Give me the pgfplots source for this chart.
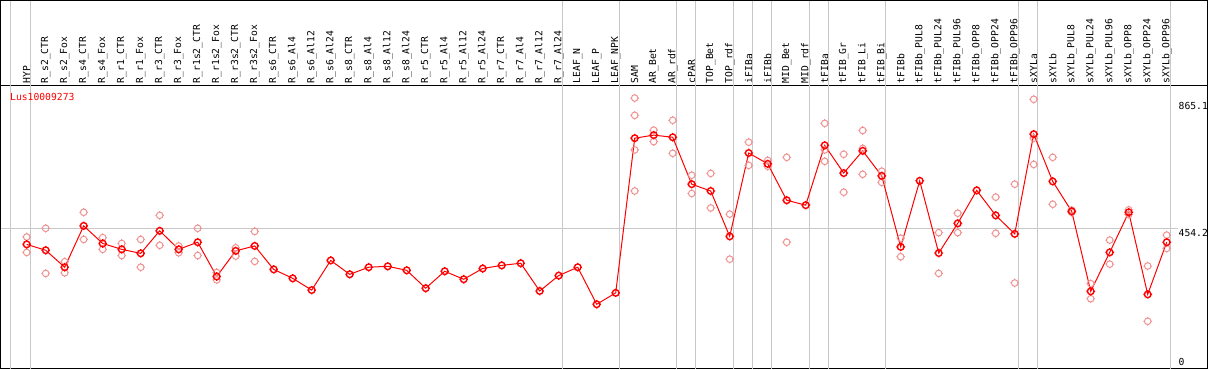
\documentclass[border=0pt]{standalone}
\usepackage{fontspec}
\setmainfont{DejaVu Sans Mono}
\usepackage{pgfplots}
\pgfplotsset{compat=1.18}
\definecolor{sepgray}{RGB}{200,200,200}
\definecolor{palered}{RGB}{240,145,145}
\definecolor{mainred}{RGB}{255,0,0}
\newcommand{\lf}{\fontsize{9.7bp}{11bp}\selectfont}
\pgfdeclareplotmark{nc}{%
  \pgfpathcircle{\pgfpointorigin}{\pgfplotmarksize}%
  \pgfpathmoveto{\pgfpoint{\pgfplotmarksize}{0pt}}\pgfpathlineto{\pgfpoint{1.3\pgfplotmarksize}{0pt}}%
  \pgfpathmoveto{\pgfpoint{-\pgfplotmarksize}{0pt}}\pgfpathlineto{\pgfpoint{-1.3\pgfplotmarksize}{0pt}}%
  \pgfpathmoveto{\pgfpoint{0pt}{\pgfplotmarksize}}\pgfpathlineto{\pgfpoint{0pt}{1.3\pgfplotmarksize}}%
  \pgfpathmoveto{\pgfpoint{0pt}{-\pgfplotmarksize}}\pgfpathlineto{\pgfpoint{0pt}{-1.3\pgfplotmarksize}}%
  \pgfusepathqstroke}
\begin{document}
\begin{tikzpicture}
\begin{axis}[
  scale only axis, width=1206.5bp, height=283bp,
  xmin=-1.3526, xmax=62.147, ymin=-1.6, ymax=915.1,
  clip=false,
  axis line style={line width=1bp, black},
  major tick length=0pt,
  /pgf/number format/assume math mode=true,
  xtick={0,...,60},
  xticklabels={HYP,R\_s2\_CTR,R\_s2\_Fox,R\_s4\_CTR,R\_s4\_Fox,R\_r1\_CTR,R\_r1\_Fox,R\_r3\_CTR,R\_r3\_Fox,R\_r1s2\_CTR,R\_r1s2\_Fox,R\_r3s2\_CTR,R\_r3s2\_Fox,R\_s6\_CTR,R\_s6\_Al4,R\_s6\_Al12,R\_s6\_Al24,R\_s8\_CTR,R\_s8\_Al4,R\_s8\_Al12,R\_s8\_Al24,R\_r5\_CTR,R\_r5\_Al4,R\_r5\_Al12,R\_r5\_Al24,R\_r7\_CTR,R\_r7\_Al4,R\_r7\_Al12,R\_r7\_Al24,LEAF\_N,LEAF\_P,LEAF\_NPK,SAM,AR\_Bet,AR\_rdf,cPAR,TOP\_Bet,TOP\_rdf,iFIBa,iFIBb,MID\_Bet,MID\_rdf,tFIBa,tFIB\_Gr,tFIB\_Li,tFIB\_Bi,tFIBb,tFIBb\_PUL8,tFIBb\_PUL24,tFIBb\_PUL96,tFIBb\_OPP8,tFIBb\_OPP24,tFIBb\_OPP96,sXYLa,sXYLb,sXYLb\_PUL8,sXYLb\_PUL24,sXYLb\_PUL96,sXYLb\_OPP8,sXYLb\_OPP24,sXYLb\_OPP96},
  xticklabel pos=upper,
  xticklabel style={rotate=90, anchor=west, font=\lf, inner sep=2.5bp},
  ytick={454.2,865.1}, yticklabels={454.2,865.1},
  yticklabel pos=right,
  yticklabel style={anchor=west, xshift=-32bp, yshift=-4.5bp, font=\lf, inner sep=3bp},
  extra y ticks={0}, extra y tick labels={0},
  extra y tick style={yticklabel style={yshift=11bp}},
]
\coordinate (LL) at (rel axis cs:0,0);
\coordinate (UR) at (rel axis cs:1,1);
% separators
\pgfplotsinvokeforeach{-0.84,0.21,28.21,31.19,34.21,35.21,37.21,38.21,39.21,41.21,42.21,45.21,52.21,53.21,60.21}{
  \draw[sepgray, line width=1bp] (axis cs:#1,-1.6) -- ([yshift=85.5bp]axis cs:#1,915.1);
}
\draw[sepgray, line width=1bp] (axis cs:-1.3526,454.2) -- (axis cs:60.6,454.2);
% header frame
\draw[black, line width=1bp] (rel axis cs:0,1) -- ([yshift=85.5bp]rel axis cs:0,1) -- ([yshift=85.5bp]rel axis cs:1,1) -- (rel axis cs:1,1);
\node[anchor=west, inner sep=0pt, text=mainred, font=\lf] at ([shift={(9bp,-11bp)}]rel axis cs:0,1) {Lus10009273};
% replicates
\addplot[only marks, mark=nc, mark size=3.3bp, palered, line width=1bp] table {
x y
0 426
0 376
1 454
1 308
2 346
2 310
3 506
3 418
4 424
4 386
5 405
5 366
6 418
6 328
7 496
7 399
8 397
8 375
9 454
9 366
10 311
10 287
11 391
11 364
12 444
12 347
32 876
32 820
32 708
32 575
33 772
33 735
34 804
34 697
35 626
35 567
36 632
36 520
37 500
37 354
38 733
38 658
39 674
39 655
40 684
40 409
42 794
42 708
42 671
43 694
43 571
44 771
44 713
44 629
45 639
45 603
46 422
46 362
48 440
48 308
49 503
49 440
51 555
51 438
52 597
52 277
53 872
53 746
53 661
54 684
54 532
55 513
55 506
56 275
56 226
57 416
57 338
58 514
58 499
59 332
59 153
60 432
60 389
};
% means
\addplot[mainred, line width=1bp, mark=nc, mark size=3.3bp, mark options={line width=1.4bp}] table {
x y
0 402
1 383
2 328
3 462
4 405
5 386
6 373
7 446
8 386
9 409
10 298
11 381
12 397
13 321
14 292
15 254
16 350
17 305
18 328
19 331
20 318
21 260
22 315
23 289
24 324
25 334
26 341
27 251
28 301
29 328
30 208
31 245
32 746
33 756
34 749
35 597
36 575
37 428
38 698
39 663
40 545
41 529
42 723
43 633
44 705
45 624
46 394
47 608
48 374
49 470
50 577
51 496
52 436
53 759
54 606
55 509
56 250
57 376
58 506
59 240
60 409
};
\end{axis}
\pgfresetboundingbox
\path ([shift={(-1bp,-1bp)}]LL) rectangle ([shift={(1.5bp,86bp)}]UR);
\end{tikzpicture}
\end{document}
